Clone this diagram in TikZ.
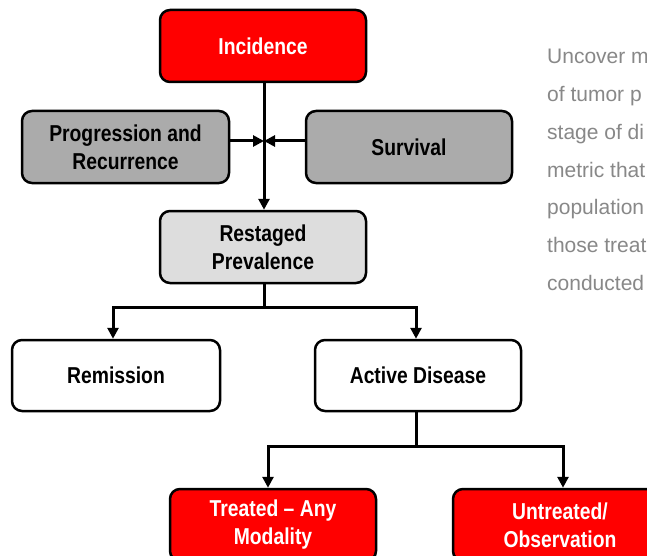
\documentclass[tikz,border=0pt]{standalone}
\usepackage{fontspec}
\usetikzlibrary{arrows.meta}
\setmainfont{Liberation Sans}
\newfontfamily\boxfont[FakeStretch=0.84]{Liberation Sans}
\newfontfamily\sidefont{Liberation Sans}
\definecolor{boxred}{RGB}{255,0,0}
\definecolor{boxgray}{RGB}{171,171,171}
\definecolor{boxlight}{RGB}{221,221,221}
\definecolor{sidegray}{RGB}{136,136,136}
\tikzset{
  flowbox/.style={draw=black, line width=2.5pt, rounded corners=10pt,
    minimum width=206pt, minimum height=72pt, align=center, inner sep=0pt,
    font=\boxfont\bfseries\fontsize{23}{28}\selectfont},
  redbox/.style={flowbox, fill=boxred, text=white},
  graybox/.style={flowbox, fill=boxgray, text=black},
  lightbox/.style={flowbox, fill=boxlight, text=black},
  whitebox/.style={flowbox, fill=white, text=black},
  conn/.style={draw=black, line width=3pt},
  arr/.style={conn, -{Triangle[length=11pt,width=11pt]}},
  sideline/.style={anchor=base west, inner sep=0pt, text=sidegray,
    font=\sidefont\fontsize{21}{24}\selectfont}
}
\begin{document}
\begin{tikzpicture}[x=1pt,y=-1pt]
\useasboundingbox (0,0) rectangle (647,556);
\clip (0,0) rectangle (647,556);
\fill[white] (0,0) rectangle (647,556);

\node[redbox] (inc) at (263,46) {Incidence};
\node[graybox, minimum width=207pt] (prog) at (125.5,147) {Progression and\\Recurrence};
\node[graybox] (surv) at (409,147) {Survival};
\node[lightbox] (rest) at (263,247) {Restaged\\Prevalence};
\node[whitebox, minimum width=208pt, minimum height=71pt] (rem) at (116,375.5) {Remission};
\node[whitebox, minimum height=71pt] (act) at (418,375.5) {Active Disease};
\node[redbox] (treat) at (273,525) {Treated – Any\\Modality};
\node[redbox, minimum width=214pt] (untr) at (560,525) {Untreated/\\Observation};

\coordinate (j) at (264,141);
\draw[arr] ([xshift=1pt]inc.south) -- ([xshift=1pt]rest.north);
\draw[arr] (prog.east |- j) -- (j);
\draw[arr] (surv.west |- j) -- (j);

\coordinate (b1) at (264,307);
\draw[conn] ([xshift=1pt]rest.south) -- (b1);
\draw[arr] (b1) -| ([xshift=-3pt]rem.north);
\draw[arr] (b1) -| ([xshift=-2pt]act.north);

\coordinate (b2) at (416,446);
\draw[conn] ([xshift=-2pt]act.south) -- (b2);
\draw[arr] (b2) -| ([xshift=-5pt]treat.north);
\draw[arr] (b2) -| ([xshift=3pt]untr.north);

\node[sideline] (l1) at (547,64) {Uncover m};
\node[sideline] (l2) at (547,101.7) {of tumor p};
\node[sideline] (l3) at (547,139.4) {stage of di};
\node[sideline] (l4) at (547,177.1) {metric that};
\node[sideline] (l5) at (547,214.8) {population};
\node[sideline] (l6) at (547,252.5) {those treat};
\node[sideline] (l7) at (547,290.2) {conducted};
\end{tikzpicture}
\end{document}
